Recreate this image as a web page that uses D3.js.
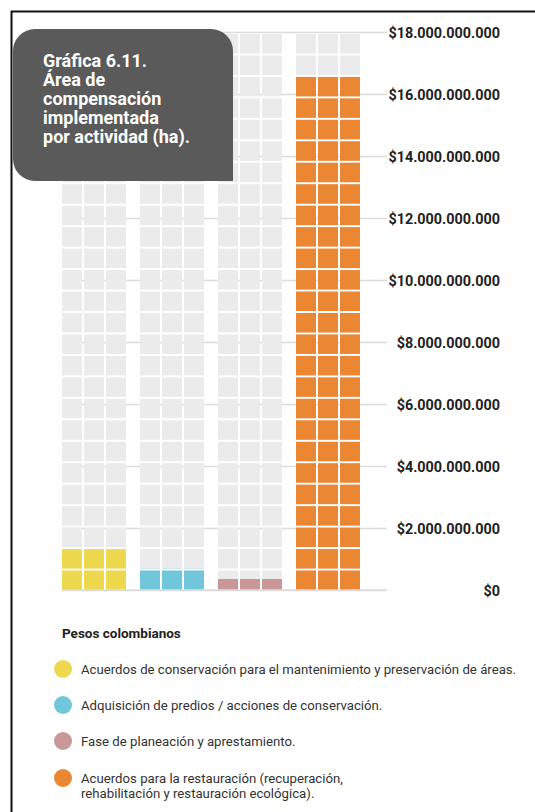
<!DOCTYPE html>
<html>
<head>
<meta charset="utf-8">
<script src="https://cdn.jsdelivr.net/npm/d3@7"></script>
<style>
  html, body { margin: 0; padding: 0; background: #fff; }
  svg { display: block; }
</style>
</head>
<body>
<svg id="chart" width="535" height="812"></svg>
<script>
// ---- Data ----
const categories = [
  "Acuerdos de conservación para el mantenimiento y preservación de áreas.",
  "Adquisición de predios / acciones de conservación.",
  "Fase de planeación y aprestamiento.",
  "Acuerdos para la restauración (recuperación, rehabilitación y restauración ecológica)."
];
const legendLines = [
  ["Acuerdos de conservación para el mantenimiento y preservación de áreas."],
  ["Adquisición de predios / acciones de conservación."],
  ["Fase de planeación y aprestamiento."],
  ["Acuerdos para la restauración (recuperación,", "rehabilitación y restauración ecológica)."]
];
const values = [1.38e9, 0.69e9, 0.355e9, 16.6e9];
const colors = ["#EDD84E", "#70C6DA", "#C99798", "#EB8633"];
const tickValues = [0, 2e9, 4e9, 6e9, 8e9, 10e9, 12e9, 14e9, 16e9, 18e9];
const titleLines = ["Gráfica 6.11.", "Área de", "compensación", "implementada", "por actividad (ha)."];
const legendTitle = "Pesos colombianos";
const yMax = 18e9;
const rowCount = 26;
const columnsPerGroup = [0, 1, 2];

// ---- Setup ----
const svg = d3.select("#chart");
const font = "Roboto, 'Liberation Sans', sans-serif";

const x = d3.scaleBand().domain(d3.range(categories.length)).range([62, 360]).paddingInner(14 / 78).paddingOuter(0);
const xInner = d3.scaleBand().domain(columnsPerGroup).range([0, x.bandwidth()]).paddingInner(2 / 22).paddingOuter(0);
const y = d3.scaleLinear().domain([0, yMax]).range([590, 32]);

const locale = d3.formatLocale({ decimal: ",", thousands: ".", grouping: [3], currency: ["$", ""] });
const fmt = locale.format("$,.0f");

// Gridlines + tick labels (axis)
const gridRight = 387;
const axis = d3.axisRight(y).tickValues(tickValues).tickFormat(fmt).tickSize(-(gridRight - 62)).tickPadding(0);
const gAxis = svg.append("g").attr("transform", `translate(${gridRight},0)`).call(axis);
gAxis.select(".domain").remove();
gAxis.selectAll(".tick line").attr("stroke", "#dcdcdc").attr("stroke-width", 1.5);
gAxis.selectAll(".tick text")
  .attr("x", 113).attr("text-anchor", "end").attr("dy", "0.35em")
  .attr("font-family", font).attr("font-weight", "bold").attr("font-size", 14.4)
  .attr("fill", "#222");

// Cells
const rowStep = yMax / rowCount;
const rows = d3.range(rowCount);
const gap = 2;
function cellRects(g) {
  g.selectAll("rect").data(rows.flatMap(r => columnsPerGroup.map(c => ({ r, c })))).join("rect")
    .attr("x", d => xInner(d.c))
    .attr("width", xInner.bandwidth())
    .attr("y", d => y((d.r + 1) * rowStep) + gap)
    .attr("height", d => y(d.r * rowStep) - y((d.r + 1) * rowStep) - gap);
}

const defs = svg.append("defs");
categories.forEach((cat, i) => {
  defs.append("clipPath").attr("id", "clip" + i)
    .append("rect")
    .attr("x", 0).attr("width", x.bandwidth())
    .attr("y", y(values[i])).attr("height", y(0) - y(values[i]));
});

const groups = svg.append("g").selectAll("g.grp").data(categories).join("g")
  .attr("class", "grp")
  .attr("transform", (d, i) => `translate(${x(i)},0)`);

groups.append("g").attr("fill", "#ebebeb").call(cellRects);
groups.append("g")
  .attr("fill", (d, i) => colors[i])
  .attr("clip-path", (d, i) => `url(#clip${i})`)
  .call(cellRects);

// Baseline
svg.append("line").attr("x1", 62).attr("x2", gridRight).attr("y1", y(0)).attr("y2", y(0))
  .attr("stroke", "#dcdcdc").attr("stroke-width", 1.5);

// Title box
const bx0 = 13, by0 = 29, bx1 = 233, by1 = 181, r = 22;
const p = d3.path();
p.moveTo(bx0 + r, by0);
p.lineTo(bx1 - r, by0);
p.arcTo(bx1, by0, bx1, by0 + r, r);
p.lineTo(bx1, by1);
p.lineTo(bx0 + r, by1);
p.arcTo(bx0, by1, bx0, by1 - r, r);
p.lineTo(bx0, by0 + r);
p.arcTo(bx0, by0, bx0 + r, by0, r);
p.closePath();
svg.append("path").attr("d", p.toString()).attr("fill", "#5a5a5a");

svg.append("g").selectAll("text").data(titleLines).join("text")
  .attr("x", 43).attr("y", (d, i) => 67 + i * 19)
  .attr("font-family", font).attr("font-weight", "bold").attr("font-size", 18)
  .attr("fill", "#fff").text(d => d);

// Frame
svg.append("line").attr("x1", 11).attr("x2", 535).attr("y1", 11.5).attr("y2", 11.5).attr("stroke", "#111").attr("stroke-width", 2);
svg.append("line").attr("x1", 11.5).attr("x2", 11.5).attr("y1", 11).attr("y2", 812).attr("stroke", "#111").attr("stroke-width", 2);

// Legend
svg.append("text").attr("x", 62).attr("y", 638)
  .attr("font-family", font).attr("font-weight", "bold").attr("font-size", 13.5)
  .attr("fill", "#222").text(legendTitle);

const legendY = [669, 705, 741, 778];
const lg = svg.append("g").selectAll("g").data(categories).join("g")
  .attr("transform", (d, i) => `translate(0,${legendY[i]})`);
lg.append("circle").attr("cx", 63).attr("cy", 0).attr("r", 9).attr("fill", (d, i) => colors[i]);
lg.each(function(d, i) {
  d3.select(this).selectAll("text").data(legendLines[i]).join("text")
    .attr("x", 81).attr("y", (t, j) => 5 + j * 15)
    .attr("font-family", font).attr("font-size", 13.2)
    .attr("fill", "#333").text(t => t);
});
</script>
</body>
</html>
